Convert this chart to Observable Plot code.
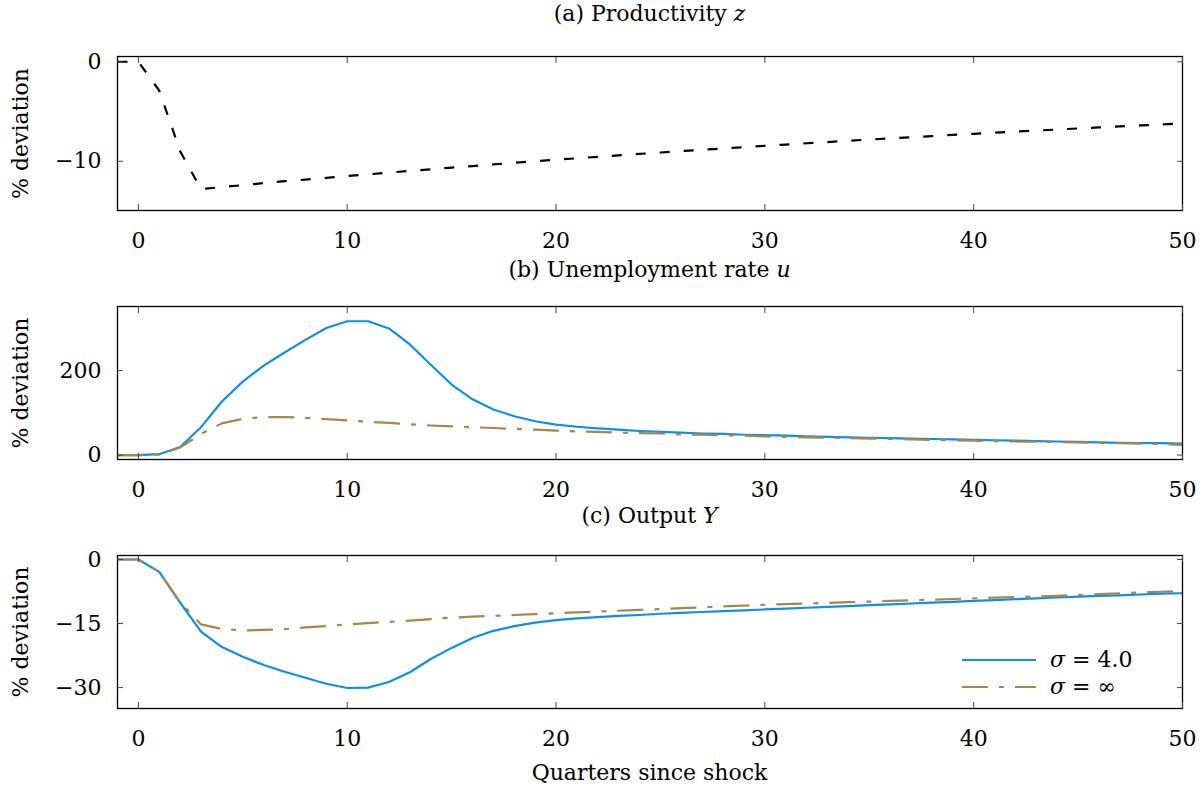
<!DOCTYPE html>
<html><head><meta charset="utf-8">
<script src="https://cdn.jsdelivr.net/npm/d3@7"></script>
<script src="https://cdn.jsdelivr.net/npm/@observablehq/plot@0.6"></script>
<style>
body{margin:0;background:#fff;}
#root{position:relative;width:1202px;height:793px;font-family:"DejaVu Serif",serif;color:#000;}
.ttl{position:absolute;left:117px;width:1065px;text-align:center;font-size:22px;line-height:22px;white-space:nowrap;}
.pan{position:absolute;left:0;overflow:visible;}
#legend{position:absolute;left:960px;top:646px;font-size:22px;}
#legend .row{display:flex;align-items:center;height:27px;}
#legend svg{margin-right:14px;}
</style></head><body><div id="root"></div>
<script>
const quarters = [-1,0,1,2,3,4,5,6,7,8,9,10,11,12,13,14,15,16,17,18,19,20,21,22,23,24,25,26,27,28,29,30,31,32,33,34,35,36,37,38,39,40,41,42,43,44,45,46,47,48,49,50];
const productivity = [0,0,-2.9,-9.0,-12.8,-12.6,-12.4,-12.2,-12.0,-11.85,-11.67,-11.49,-11.32,-11.14,-10.97,-10.81,-10.64,-10.48,-10.32,-10.16,-10.0,-9.85,-9.7,-9.55,-9.41,-9.26,-9.12,-8.98,-8.85,-8.71,-8.58,-8.45,-8.32,-8.19,-8.07,-7.94,-7.82,-7.7,-7.58,-7.47,-7.35,-7.24,-7.13,-7.02,-6.92,-6.81,-6.7,-6.6,-6.5,-6.4,-6.3,-6.2];
const unempSigma4 = [0,0,2,19,66,127,174,212,243,273,301,317,317,300,262,214,167,132,108,92,80,72,67,63,60,57,55,53,51,50,48,47,46,44,43,42,41,40,39,38,37,36,35,34,33,32,31,30,29,28.5,28,27];
const unempSigmaInf = [0,0,1,18,50,75,86,90,90,88,85,82,79,76,73,70,68,66,64,62,60,58,56,55,53,52,51,49,48,47,46,44,43,42,41,40,39,38,37,36,35,34,33,32,31.5,31,30,29,28,27,26,24];
const outputSigma4 = [0,0,-2.9,-10.1,-16.9,-20.5,-22.8,-24.7,-26.3,-27.7,-29.1,-30.1,-30.0,-28.7,-26.4,-23.3,-20.7,-18.4,-16.7,-15.6,-14.8,-14.2,-13.8,-13.5,-13.2,-13.0,-12.7,-12.5,-12.3,-12.1,-11.9,-11.7,-11.5,-11.3,-11.1,-10.9,-10.7,-10.5,-10.3,-10.1,-9.9,-9.7,-9.5,-9.3,-9.1,-8.9,-8.7,-8.5,-8.4,-8.2,-8.0,-7.9];
const outputSigmaInf = [0,0,-2.9,-10.0,-15.2,-16.3,-16.6,-16.5,-16.3,-15.9,-15.6,-15.2,-14.9,-14.6,-14.3,-13.95,-13.6,-13.4,-13.2,-13.0,-12.8,-12.6,-12.4,-12.2,-12.0,-11.8,-11.6,-11.4,-11.2,-11.0,-10.8,-10.6,-10.45,-10.3,-10.15,-10.0,-9.85,-9.7,-9.55,-9.4,-9.25,-9.1,-8.95,-8.8,-8.65,-8.5,-8.3,-8.1,-7.9,-7.7,-7.55,-7.4];
const xTicks = [0,10,20,30,40,50];
const yTicksA = [0,-10];
const yTicksB = [0,200];
const yTicksC = [0,-15,-30];
const titles = ['(a) Productivity <i>z</i>','(b) Unemployment rate <i>u</i>','(c) Output <i>Y</i>'];
const legendLabels = ['<i>σ</i> = 4.0','<i>σ</i> = ∞'];
const xLabel = 'Quarters since shock';
const yLabel = '% deviation';

const BLUE = '#0f8fe6', GOLD = '#a5874c';
const root = document.getElementById('root');
const rows = (ys) => quarters.map((t,i)=>({t, v: ys[i]}));
const FONT = '"DejaVu Serif", serif';

function panel({frameTop, frameH, yDomain, yTicks, lines, titleTop, title}) {
  const mt = 10, mb = 45;
  const marks = [];
  for (const l of lines) marks.push(Plot.line(rows(l.data), {x:'t', y:'v', stroke:l.stroke, strokeWidth:l.width, strokeDasharray:l.dash, strokeLinejoin:'round', strokeLinecap:'butt'}));
  marks.push(Plot.frame({stroke:'#000', strokeWidth:1.3}));
  const tk = {stroke:'#444', strokeWidth:1, label:null, tickFormat:()=>''};
  marks.push(Plot.axisX({...tk, ticks:xTicks, anchor:'bottom', tickSize:6, dy:-6}));
  marks.push(Plot.axisX({...tk, ticks:xTicks, anchor:'top', tickSize:6, dy:6}));
  marks.push(Plot.axisY({...tk, ticks:yTicks, anchor:'left', tickSize:6, dx:6}));
  marks.push(Plot.axisY({...tk, ticks:yTicks, anchor:'right', tickSize:6, dx:-6}));
  marks.push(Plot.axisX({ticks:xTicks, anchor:'bottom', tickSize:0, tickPadding:22, label:null, fontSize:22, fill:'#000'}));
  marks.push(Plot.axisY({ticks:yTicks, anchor:'left', tickSize:0, tickPadding:16, label:null, fontSize:22, fill:'#000'}));
  marks.push(Plot.text([yLabel], {text:d=>d, frameAnchor:'left', textAnchor:'middle', lineAnchor:'middle', dx:-97, rotate:-90, fontSize:22, fill:'#000'}));
  const p = Plot.plot({
    width:1202, height: mt+frameH+mb,
    marginLeft:117, marginRight:20, marginTop:mt, marginBottom:mb,
    x:{domain:[-1,50]}, y:{domain:yDomain},
    style:{fontFamily:FONT, fontSize:'22px', background:'transparent', color:'#000', overflow:'visible'},
    marks
  });
  p.classList.add('pan');
  p.style.top = (frameTop - mt) + 'px';
  root.appendChild(p);
  const t = document.createElement('div');
  t.className = 'ttl'; t.style.top = titleTop + 'px'; t.innerHTML = title;
  root.appendChild(t);
}

panel({frameTop:56, frameH:154, yDomain:[-14.95,0.53], yTicks:yTicksA, titleTop:3, title:titles[0],
  lines:[{data:productivity, stroke:'#000', width:2.2, dash:'10,14'}]});
panel({frameTop:306, frameH:153, yDomain:[-10.6,352], yTicks:yTicksB, titleTop:259, title:titles[1],
  lines:[{data:unempSigma4, stroke:BLUE, width:2.2},{data:unempSigmaInf, stroke:GOLD, width:2.2, dash:'26,11,5,11'}]});
panel({frameTop:555, frameH:153, yDomain:[-34.9,0.94], yTicks:yTicksC, titleTop:505, title:titles[2],
  lines:[{data:outputSigma4, stroke:BLUE, width:2.2},{data:outputSigmaInf, stroke:GOLD, width:2.2, dash:'26,11,5,11'}]});

const xl = document.createElement('div');
xl.className='ttl'; xl.style.top='762px'; xl.textContent = xLabel;
root.appendChild(xl);

const lg = document.createElement('div'); lg.id='legend';
const styles = [{stroke:BLUE, dash:''},{stroke:GOLD, dash:'26,11,5,11'}];
legendLabels.forEach((lab,i)=>{
  const r = document.createElement('div'); r.className='row';
  r.innerHTML = `<svg width="76" height="6"><line x1="2" y1="3" x2="76" y2="3" stroke="${styles[i].stroke}" stroke-width="2.2" stroke-dasharray="${styles[i].dash}"/></svg><span>${lab}</span>`;
  lg.appendChild(r);
});
root.appendChild(lg);
</script></body></html>
